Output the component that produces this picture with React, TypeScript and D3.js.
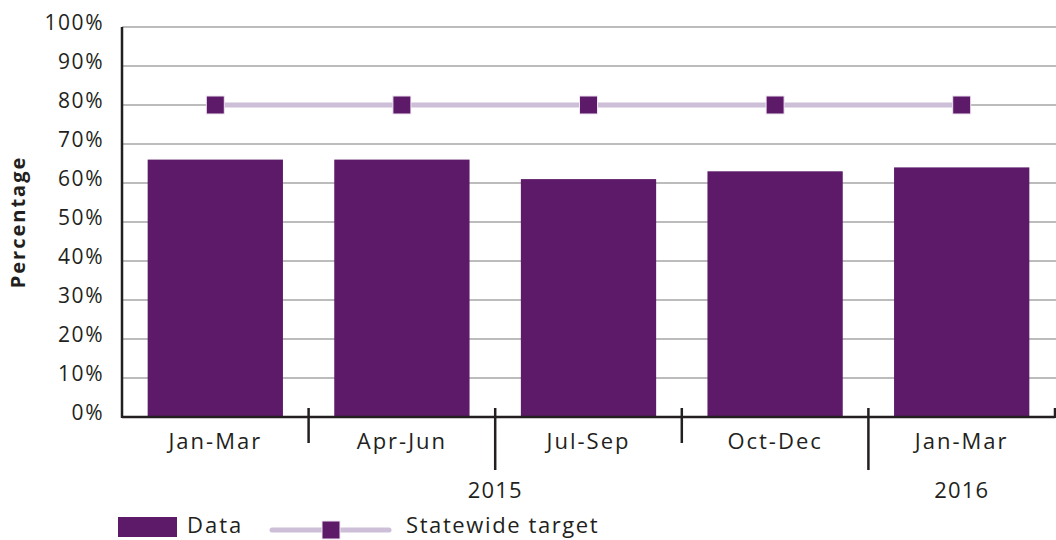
import React from "react";
import * as d3 from "d3";

const categories = ["Jan-Mar", "Apr-Jun", "Jul-Sep", "Oct-Dec", "Jan-Mar"];
const dataValues = [66, 66, 61, 63, 64];
const targetValues = [80, 80, 80, 80, 80];
const yTicks = [0, 10, 20, 30, 40, 50, 60, 70, 80, 90, 100];
const yearGroups = [
  { label: "2015", start: 0, end: 3 },
  { label: "2016", start: 4, end: 4 },
];
const longDividers = [2, 4];

const W = 1056;
const H = 540;
const left = 122;
const right = 1055;
const top = 27;
const bottom = 417;

const BAR = "#5c1a68";
const TARGET_LINE = "#cdbfd8";
const TEXT = "#231f20";
const GRID = "#a6a6a6";
const FONT = "'Open Sans', sans-serif";

export default function App() {
  const idx = categories.map((_, i) => i);
  const x = d3.scaleBand<number>().domain(idx).range([left, right]).padding(0);
  const bw = x.bandwidth();
  const barW = bw * 0.725;
  const y = d3.scaleLinear().domain([0, 100]).range([bottom, top]);
  const cx = (i: number) => (x(i) as number) + bw / 2;

  const lineGen = d3
    .line<number>()
    .x((_, i) => cx(i))
    .y((d) => y(d));

  return (
    <svg
      width={W}
      height={H}
      style={{ position: "absolute", left: 0, top: 0, background: "#fff" }}
      fontFamily={FONT}
    >
      {yTicks.map((t) =>
        t === 0 ? null : (
          <line key={"g" + t} x1={left} x2={W} y1={y(t)} y2={y(t)} stroke={GRID} strokeWidth={1.5} />
        )
      )}
      {yTicks.map((t) => (
        <text
          key={"yt" + t}
          x={104}
          y={y(t) - 3}
          textAnchor="end"
          dominantBaseline="middle"
          fontSize={21}
          letterSpacing={1.5}
          fill={TEXT}
        >
          {t}%
        </text>
      ))}
      <text
        transform={`translate(20,${(top + bottom) / 2}) rotate(-90)`}
        textAnchor="middle"
        dominantBaseline="middle"
        fontSize={20}
        fontWeight="bold"
        letterSpacing={2}
        fill={TEXT}
      >
        Percentage
      </text>
      {dataValues.map((v, i) => (
        <rect key={"b" + i} x={cx(i) - barW / 2} y={y(v)} width={barW} height={y(0) - y(v)} fill={BAR} />
      ))}
      <line x1={left} x2={left} y1={top} y2={bottom + 1} stroke={TEXT} strokeWidth={2.5} />
      <line x1={left} x2={right} y1={bottom} y2={bottom} stroke={TEXT} strokeWidth={2.5} />
      {idx.slice(1).map((i) => (
        <line
          key={"d" + i}
          x1={x(i) as number}
          x2={x(i) as number}
          y1={bottom - 9}
          y2={longDividers.includes(i) ? 470 : 443}
          stroke={TEXT}
          strokeWidth={2.5}
        />
      ))}
      <line x1={right} x2={right} y1={bottom - 9} y2={bottom + 1} stroke={TEXT} strokeWidth={2.5} />
      {categories.map((c, i) => (
        <text
          key={"c" + i}
          x={cx(i)}
          y={443}
          textAnchor="middle"
          dominantBaseline="middle"
          fontSize={22}
          letterSpacing={2}
          fill={TEXT}
        >
          {c}
        </text>
      ))}
      {yearGroups.map((g) => (
        <text
          key={g.label}
          x={((x(g.start) as number) + (x(g.end) as number) + bw) / 2}
          y={492}
          textAnchor="middle"
          dominantBaseline="middle"
          fontSize={22}
          letterSpacing={1.2}
          fill={TEXT}
        >
          {g.label}
        </text>
      ))}
      <path d={lineGen(targetValues) || ""} fill="none" stroke={TARGET_LINE} strokeWidth={5} />
      {targetValues.map((v, i) => (
        <rect
          key={"m" + i}
          x={cx(i) - 9}
          y={y(v) - 9}
          width={18}
          height={18}
          fill={BAR}
          stroke="#efe6f2"
          strokeWidth={1}
        />
      ))}
      <rect x={118} y={517} width={59} height={20} fill={BAR} />
      <text x={187} y={527} dominantBaseline="middle" fontSize={22} letterSpacing={2} fill={TEXT}>
        Data
      </text>
      <line x1={272} x2={389} y1={530} y2={530} stroke={TARGET_LINE} strokeWidth={5} strokeLinecap="round" />
      <rect x={322} y={521} width={18} height={18} fill={BAR} stroke="#efe6f2" strokeWidth={1} />
      <text x={406} y={527} dominantBaseline="middle" fontSize={22} letterSpacing={1.6} fill={TEXT}>
        Statewide target
      </text>
    </svg>
  );
}
